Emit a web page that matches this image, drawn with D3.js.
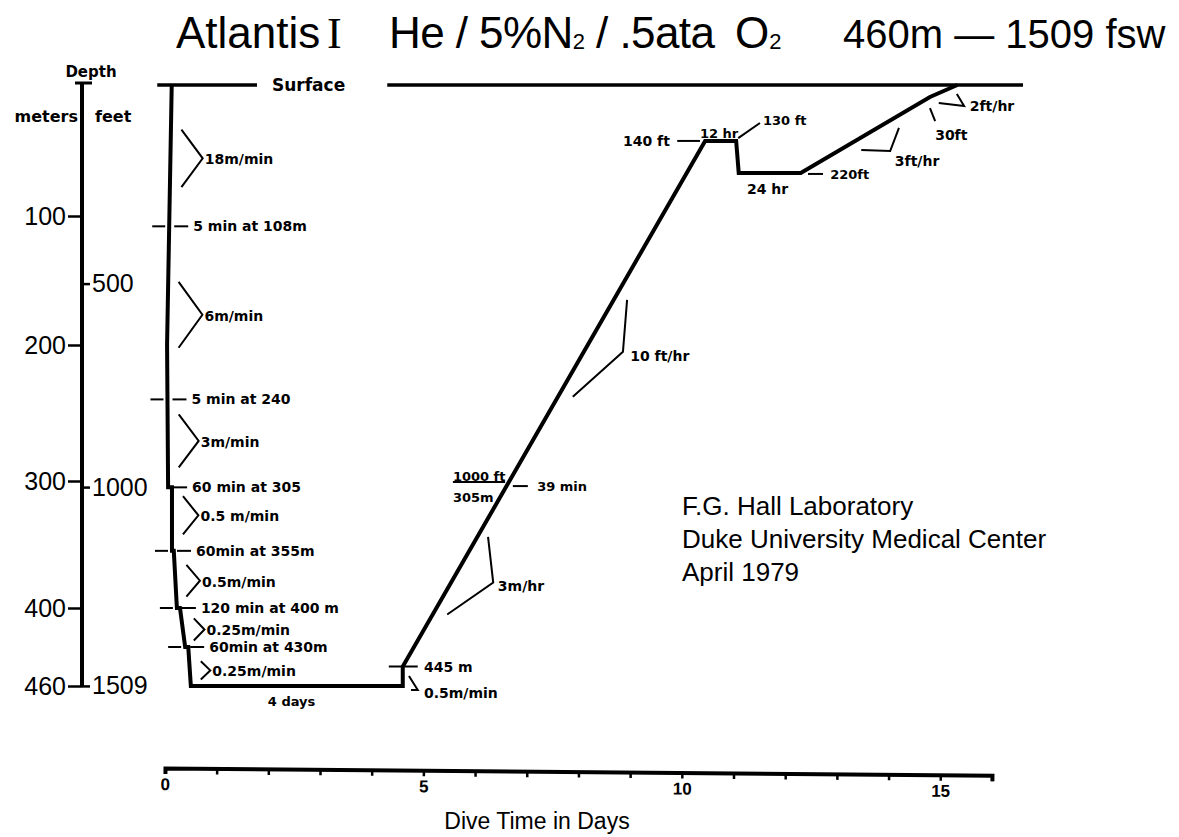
<!DOCTYPE html>
<html><head><meta charset="utf-8">
<script src="https://cdn.jsdelivr.net/npm/d3@7"></script>
<style>
html,body{margin:0;padding:0;background:#fff;}
svg{display:block;}
text{fill:#000;}
.ann{font-family:"DejaVu Sans",sans-serif;font-weight:bold;font-size:14px;}
.big{font-family:"Liberation Sans",Arial,sans-serif;}
</style></head><body>
<svg id="chart" width="1179" height="837"></svg>
<script>
// ---------------- DATA ----------------
// dive profile: time in days, depth in meters
const profileDays   = [0.13, 0.04, 0.06, 0.135, 0.135, 0.17, 0.23, 0.29, 0.39, 0.45, 0.50, 4.60, 4.60, 10.45, 11.05, 11.10, 12.30, 14.80, 15.33];
const profileDepths = [0,    200,  305,  305,   355,   355,  400,  400,  430,  430,  460,  460,  445,  42.7,  42.7,  67.1,  67.1,  9.1,   0];

// surface reference lines (days)
const surfaceLeft  = [-0.15, 1.78];
const surfaceRight = [4.30, 16.6];

// axes
const meterTicks = [100, 200, 300, 400, 460];
const feetTicks  = [500, 1000, 1509];
const dayTicks   = [0,1,2,3,4,5,6,7,8,9,10,11,12,13,14,15,16];
const dayLabels  = [0, 5, 10, 15];

// descent stops
const stopDepths = [108, 240, 305, 355, 400, 430];
const stopLabels = ["5 min at 108m", "5 min at 240", "60 min at 305", "60min at 355m", "120 min at 400 m", "60min at 430m"];
const stopLeftTick = [true, true, false, true, true, true];

// descent rates (bracketed depth ranges, m)
const rateLabels = ["18m/min", "6m/min", "3m/min", "0.5 m/min", "0.5m/min", "0.25m/min", "0.25m/min"];
const rateFrom   = [34, 151, 251, 312, 366, 408, 441];
const rateTo     = [78, 202, 290, 342, 391, 425, 455];

// other annotations (start day, depth m)
const noteLabels = ["140 ft", "12 hr", "130 ft", "24 hr", "220ft", "3ft/hr", "30ft", "2ft/hr", "10 ft/hr", "3m/hr", "39 min", "445 m", "0.5m/min", "4 days", "1000 ft", "305m"];
const noteDays   = [8.86,  10.35, 11.57, 11.26, 12.87, 14.12, 14.90, 15.57, 9.00, 6.44, 7.20, 5.01, 5.01, 1.99, 5.57, 5.57];
const noteDepths = [42.7,  36.6,  26.7,  79.4,  67.9,  58,    38.2,  16,    208,  383,  304,  445,  465.4, 472, 296.5, 312.6];

// leader lines (day, depth m)
const leaderLines = [
  [[9.91, 42.7], [10.35, 42.7]],                 // 140 ft
  [[11.09, 40.5], [11.51, 29]],                  // 130 ft
  [[12.44, 67.9], [12.73, 67.9]],                // 220 ft
  [[14.20, 32.8], [14.03, 50.4], [13.47, 49.6]], // 3 ft/hr
  [[14.80, 17.6], [14.90, 27.5]],                // 30 ft
  [[14.97, 13.7], [15.46, 16], [15.32, 6.9]],    // 2 ft/hr
  [[8.94, 165], [8.86, 205], [7.89, 238]],       // 10 ft/hr
  [[6.25, 344], [6.35, 380], [5.46, 405]],       // 3 m/hr
  [[5.57, 300.8], [6.58, 300.8]],                // fraction bar
  [[6.73, 304], [7.02, 304]],                    // 39 min
  [[4.33, 445], [4.89, 445]],                    // 445 m
  [[4.72, 452.3], [4.89, 463], [4.76, 463]]      // 0.5 m/min
];

// ---------------- CHART ----------------
const svg = d3.select("#chart");
const x = d3.scaleLinear().domain([0, 16]).range([165, 992]);
const y = d3.scaleLinear().domain([0, 100, 200, 300, 400, 460]).range([85, 216, 345, 481, 608, 686]);
const yFeet = d3.scaleLinear().domain(y.domain().map(m => m / 0.3048)).range(y.range());
const line = d3.line().x(d => x(d[0])).y(d => y(d[1]));

// Title
const title = svg.append("g").attr("class", "big").style("font-size", "44px");
title.append("text").attr("x", 176).attr("y", 48).text("Atlantis");
title.append("text").attr("x", 327).attr("y", 48).style("font-family", "'Liberation Serif',serif").text("I");
const t2 = title.append("text").attr("x", 389).attr("y", 48).attr("textLength", 326).attr("lengthAdjust", "spacing");
t2.append("tspan").text("He / 5%N");
t2.append("tspan").style("font-size", "22px").attr("dy", 1).text("2");
t2.append("tspan").attr("dy", -1).text(" / .5ata");
const t3 = title.append("text").attr("x", 735).attr("y", 48);
t3.append("tspan").text("O");
t3.append("tspan").style("font-size", "22px").attr("dy", 1).text("2");
title.append("text").attr("x", 843).attr("y", 48).style("font-size", "40px").text("460m — 1509 fsw");

// Left depth axis
const ax0 = 82;
svg.append("line").attr("x1", ax0).attr("x2", ax0).attr("y1", y(0) - 2).attr("y2", y(460))
  .attr("stroke", "#000").attr("stroke-width", 4);
svg.append("line").attr("x1", ax0 - 7).attr("x2", ax0 + 10).attr("y1", y(0) - 2).attr("y2", y(0) - 2)
  .attr("stroke", "#000").attr("stroke-width", 3);
const gm = svg.append("g").attr("transform", `translate(${ax0},0)`)
  .call(d3.axisLeft(y).tickValues(meterTicks).tickSize(14).tickPadding(2).tickFormat(d3.format("d")));
const gf = svg.append("g").attr("transform", `translate(${ax0},0)`)
  .call(d3.axisRight(yFeet).tickValues(feetTicks).tickSize(8).tickPadding(2).tickFormat(d3.format("d")));
[gm, gf].forEach(g => {
  g.select(".domain").remove();
  g.selectAll(".tick line").attr("stroke", "#000").attr("stroke-width", 2.5);
  g.selectAll(".tick text").attr("fill", "#000").style("font-family", "'Liberation Sans',Arial,sans-serif").style("font-size", "25px");
});
svg.append("text").attr("class", "ann").attr("x", 91).attr("y", 77).attr("text-anchor", "middle").style("font-size", "15px").text("Depth");
svg.append("text").attr("class", "ann").attr("x", 78).attr("y", 122).attr("text-anchor", "end").style("font-size", "16px").text("meters");
svg.append("text").attr("class", "ann").attr("x", 95).attr("y", 122).style("font-size", "16px").text("feet");

// Surface lines
svg.append("path").attr("d", line([[surfaceLeft[0], 0], [surfaceLeft[1], 0]])).attr("stroke", "#000").attr("stroke-width", 3.5).attr("fill", "none");
svg.append("path").attr("d", line([[surfaceRight[0], 0], [surfaceRight[1], 0]])).attr("stroke", "#000").attr("stroke-width", 3.5).attr("fill", "none");
svg.append("text").attr("class", "ann").attr("x", x(2.07)).attr("y", y(0)).attr("dy", "0.35em").style("font-size", "17px").text("Surface");

// Profile
const profile = profileDays.map((d, i) => [d, profileDepths[i]]);
svg.append("path").attr("d", line(profile)).attr("fill", "none").attr("stroke", "#000")
  .attr("stroke-width", 4).attr("stroke-linejoin", "miter");

// descent x position at a given depth
const descent = profile.slice(0, 11);
function profileX(depth) {
  for (let i = 0; i < descent.length - 1; i++) {
    const a = descent[i], b = descent[i + 1];
    if (a[1] !== b[1] && depth >= Math.min(a[1], b[1]) && depth <= Math.max(a[1], b[1])) {
      const t = (depth - a[1]) / (b[1] - a[1]);
      return x(a[0] + t * (b[0] - a[0]));
    }
  }
  return x(descent[0][0]);
}

// Stops
stopDepths.forEach((dep, i) => {
  const px = profileX(dep), py = y(dep);
  if (stopLeftTick[i]) svg.append("line").attr("x1", px - 17).attr("x2", px - 4).attr("y1", py).attr("y2", py).attr("stroke", "#000").attr("stroke-width", 2);
  svg.append("line").attr("x1", px + 5).attr("x2", px + 19).attr("y1", py).attr("y2", py).attr("stroke", "#000").attr("stroke-width", 2);
  svg.append("text").attr("class", "ann").attr("x", px + 24).attr("y", py).attr("dy", "0.36em").text(stopLabels[i]);
});

// Rate brackets
rateLabels.forEach((lab, i) => {
  const y1 = y(rateFrom[i]), y2 = y(rateTo[i]), ym = (y1 + y2) / 2;
  const ox = profileX((rateFrom[i] + rateTo[i]) / 2) + 11;
  const tip = ox + 0.3 * (y2 - y1) + 4;
  svg.append("path").attr("d", `M${ox},${y1}L${tip},${ym}L${ox},${y2}`).attr("fill", "none").attr("stroke", "#000").attr("stroke-width", 2);
  svg.append("text").attr("class", "ann").attr("x", tip + 2).attr("y", ym + 1).attr("dy", "0.36em").text(lab);
});

// Leader lines
leaderLines.forEach(pts => {
  svg.append("path").attr("d", line(pts)).attr("fill", "none").attr("stroke", "#000").attr("stroke-width", 2);
});

// Notes
noteLabels.forEach((lab, i) => {
  const tx = svg.append("text").attr("class", "ann").attr("x", x(noteDays[i])).attr("y", y(noteDepths[i])).attr("dy", "0.36em").text(lab);
  if (lab === "12 hr" || lab === "130 ft" || lab === "220ft" || lab === "4 days") tx.style("font-size", "13px");
  if (lab === "1000 ft" || lab === "305m" || lab === "39 min") tx.style("font-size", "13px");
});

// Laboratory note
const lab = svg.append("g").attr("class", "big").style("font-size", "26px");
["F.G. Hall Laboratory", "Duke University Medical Center", "April 1979"].forEach((s, i) => {
  lab.append("text").attr("x", 682).attr("y", 515 + i * 33).text(s);
});

// Time axis
const gx = svg.append("g").attr("transform", "translate(0,768) rotate(0.5,165,0)")
  .call(d3.axisBottom(x).tickValues(dayTicks).tickSize(6).tickSizeOuter(6).tickPadding(4)
    .tickFormat(d => dayLabels.includes(d) ? d : ""));
gx.select(".domain").attr("stroke", "#000").attr("stroke-width", 4);
gx.selectAll(".tick line").attr("stroke", "#000").attr("stroke-width", 2.5);
gx.selectAll(".tick text").attr("fill", "#000").style("font-family", "'Liberation Sans',Arial,sans-serif")
  .style("font-weight", "bold").style("font-size", "17px");
svg.append("text").attr("class", "big").attr("x", 537).attr("y", 829).attr("text-anchor", "middle")
  .style("font-size", "23px").text("Dive Time in Days");
</script>
</body></html>
